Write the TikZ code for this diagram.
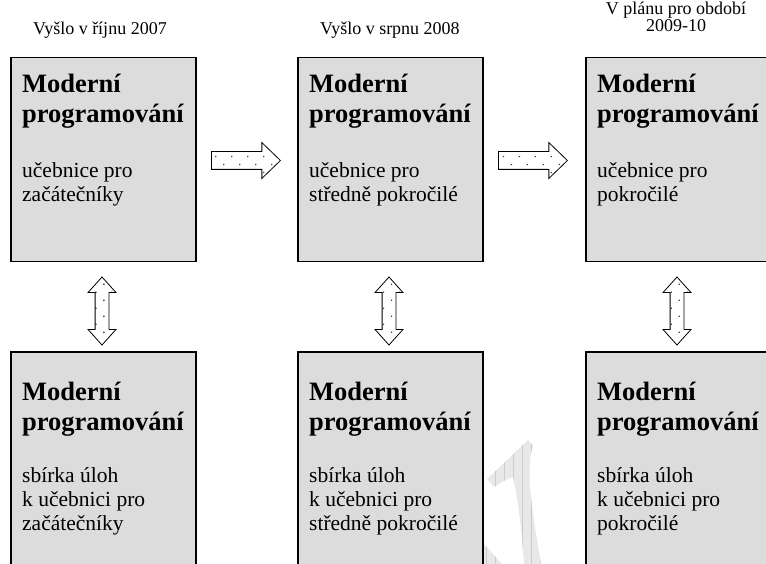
\documentclass[tikz,border=0pt]{standalone}
\usepackage{fontspec}
\setmainfont{Liberation Serif}
\usetikzlibrary{positioning,shapes.arrows,patterns.meta}
\definecolor{boxgray}{HTML}{DCDCDC}

\begin{document}
\begin{tikzpicture}[x=1pt,y=-1pt,
    box/.style={draw, line width=1.5pt, fill=boxgray, anchor=north west,
      inner sep=0pt, minimum width=185pt},
    topbox/.style={box, minimum height=204pt},
    lowbox/.style={box, minimum height=260pt},
    coltitle/.style={align=center, anchor=base, inner sep=0pt,
      font=\fontsize{18}{17}\selectfont},
    bookname/.style={anchor=base west, align=left, inner sep=0pt,
      font=\fontsize{26.5}{30}\bfseries\selectfont},
    booktext/.style={anchor=base west, align=left, inner sep=0pt,
      font=\fontsize{21.5}{24}\selectfont},
    dotfill/.style={pattern={Dots[distance=11.3pt,radius=0.9pt,angle=45]},
      pattern color=black!75},
    harrow/.style={single arrow, draw, line width=0.8pt, dotfill,
      inner sep=8.5pt, minimum height=69pt, anchor=tip,
      single arrow head extend=9pt, single arrow tip angle=88},
    varrow/.style={double arrow, draw, line width=0.8pt, dotfill,
      inner sep=6.5pt, minimum height=68pt,
      double arrow head extend=7pt, double arrow tip angle=84, rotate=90}]
  \useasboundingbox (0,0) rectangle (766,564);
  \clip (0,0) rectangle (766,564);

  % column headings (base = last line)
  \node[coltitle] (h1) at (100,35) {Vyšlo v říjnu 2007};
  \node[coltitle] (h2) at (390,35) {Vyšlo v srpnu 2008};
  \node[coltitle] (h3) at (676,32) {V plánu pro období\\2009-10};

  % textbooks
  \node[topbox] (a1) at (10,57) {};
  \node[topbox] (a2) at (297,57) {};
  \node[topbox, minimum width=200pt] (a3) at (585,57) {};
  \node[bookname] (an1) at ([shift={(12,66)}]a1.north west) {Moderní\\programování};
  \node[bookname] (an2) at ([shift={(12,66)}]a2.north west) {Moderní\\programování};
  \node[bookname] (an3) at ([shift={(12,66)}]a3.north west) {Moderní\\programování};
  \node[booktext] (at1) at ([shift={(12,145)}]a1.north west) {učebnice pro\\začátečníky};
  \node[booktext] (at2) at ([shift={(12,145)}]a2.north west) {učebnice pro\\středně pokročilé};
  \node[booktext] (at3) at ([shift={(12,145)}]a3.north west) {učebnice pro\\pokročilé};

  % exercise books
  \node[lowbox] (b1) at (10,351) {};
  \node[lowbox] (b2) at (297,351) {};
  \node[lowbox, minimum width=200pt] (b3) at (585,351) {};
  \node[bookname] (bn1) at ([shift={(12,79)}]b1.north west) {Moderní\\programování};
  \node[bookname] (bn2) at ([shift={(12,79)}]b2.north west) {Moderní\\programování};
  \node[bookname] (bn3) at ([shift={(12,79)}]b3.north west) {Moderní\\programování};
  \node[booktext] (bt1) at ([shift={(12,179)}]b1.north west) {sbírka úloh\\k učebnici pro\\začátečníky};
  \node[booktext] (bt2) at ([shift={(12,179)}]b2.north west) {sbírka úloh\\k učebnici pro\\středně pokročilé};
  \node[booktext] (bt3) at ([shift={(12,179)}]b3.north west) {sbírka úloh\\k učebnici pro\\pokročilé};

  % arrows
  \node[harrow] (r1) at (281,160.5) {};
  \node[harrow] (r2) at (568,160.5) {};
  \node[varrow] (v1) at (102,311) {};
  \node[varrow] (v2) at (389,311) {};
  \node[varrow] (v3) at (677,311) {};

  % faint watermark
  \begin{scope}
    \clip (487,479) -- (528,440) -- (533,446)
      .. controls (525,470) and (532,510) .. (541,564) -- (524,564)
      .. controls (521,520) and (517,495) .. (513,477)
      .. controls (505,480) .. (494,487) -- cycle
      (484,544) -- (502,564) -- (484,564) -- cycle;
    \fill[gray!18] (480,430) rectangle (550,564);
    \draw[gray!40, line width=0.4pt] (480,430) grid[step=9] (550,564);
  \end{scope}
\end{tikzpicture}
\end{document}
